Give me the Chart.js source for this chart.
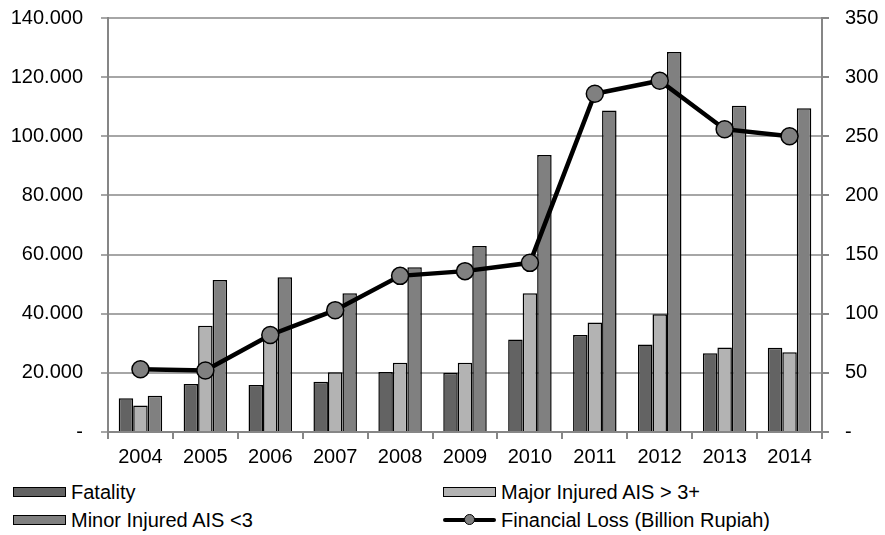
<!DOCTYPE html>
<html>
<head>
<meta charset="utf-8">
<script src="https://cdn.jsdelivr.net/npm/chart.js@4"></script>
<style>
  body { margin: 0; background: #fff; font-family: "Liberation Sans", Arial, sans-serif; }
  #wrap { position: relative; width: 885px; height: 482px; margin-top: -12px; }
  .legend { position: absolute; top: 480px; left: 13px; width: 870px; font-size: 20px; color: #000; }
  .item { position: absolute; display: flex; align-items: center; white-space: nowrap; height: 24px; }
  .box { width: 53px; height: 10px; border: 1.5px solid #000; box-sizing: border-box; margin-right: 5px; }
  .lineSym { position: relative; width: 53px; height: 16px; margin-right: 5px; }
  .lineSym .bar { position: absolute; left: 0; right: 0; top: 6px; height: 4px; background: #000; border-radius: 2px; }
  .lineSym .dot { position: absolute; left: 21px; top: 2px; width: 11px; height: 11px; border-radius: 50%; background: #808080; border: 1.5px solid #000; box-sizing: border-box; }
</style>
</head>
<body>
<div id="wrap"><canvas id="accidentChart"></canvas></div>
<div class="legend">
  <div class="item" style="left:0; top:0"><span class="box" style="background:#636363"></span>Fatality</div>
  <div class="item" style="left:430px; top:0"><span class="box" style="background:#b3b3b3"></span>Major Injured AIS &gt; 3+</div>
  <div class="item" style="left:0; top:28px"><span class="box" style="background:#808080"></span>Minor Injured AIS &lt;3</div>
  <div class="item" style="left:430px; top:28px"><span class="lineSym"><span class="bar"></span><span class="dot"></span></span>Financial Loss (Billion Rupiah)</div>
</div>
<script>
const years = ['2004', '2005', '2006', '2007', '2008', '2009', '2010', '2011', '2012', '2013', '2014'];
const fatality = [11400, 16200, 15900, 17000, 20300, 20000, 31300, 32800, 29600, 26600, 28500];
const majorInjured = [9000, 35900, 33000, 20200, 23400, 23400, 46900, 37000, 39800, 28600, 27000];
const minorInjured = [12300, 51400, 52300, 46900, 55700, 62900, 93700, 108700, 128500, 110300, 109500];
const financialLoss = [53, 52, 82, 103, 132, 136, 143, 286, 297, 256, 250];

const font = { family: '"Liberation Sans", Arial, sans-serif', size: 20 };
const axisColor = '#868686';

function barSet(label, data, color) {
    return {
        type: 'bar',
        label: label,
        data: data,
        backgroundColor: color,
        borderColor: '#000',
        borderWidth: 1.5,
        barPercentage: 1,
        categoryPercentage: 0.67,
        yAxisID: 'y',
        order: 2
    };
}

const ctx = document.getElementById('accidentChart').getContext('2d');
const chart = new Chart(ctx, {
    data: {
        labels: years,
        datasets: [
            barSet('Fatality', fatality, '#636363'),
            barSet('Major Injured AIS > 3+', majorInjured, '#b3b3b3'),
            barSet('Minor Injured AIS <3', minorInjured, '#808080'),
            {
                type: 'line',
                label: 'Financial Loss (Billion Rupiah)',
                data: financialLoss,
                borderColor: '#000',
                borderWidth: 4.5,
                pointRadius: 8.5,
                pointBackgroundColor: '#808080',
                pointBorderColor: '#000',
                pointBorderWidth: 1.5,
                yAxisID: 'y1',
                order: 1
            }
        ]
    },
    options: {
        responsive: true,
        maintainAspectRatio: false,
        animation: false,
        layout: { padding: 0 },
        plugins: { legend: { display: false }, tooltip: { enabled: false } },
        scales: {
            x: {
                offset: true,
                grid: { offset: true, drawOnChartArea: false, drawTicks: true, tickLength: 7, color: axisColor, lineWidth: 2 },
                border: { color: axisColor, width: 2 },
                ticks: { color: '#000', font: font, padding: 6 },
                afterFit: s => { s.height = 38; }
            },
            y: {
                position: 'left',
                min: 0,
                max: 140000,
                grid: { color: '#a6a6a6', lineWidth: 2, tickLength: 7 },
                border: { color: axisColor, width: 2 },
                ticks: {
                    stepSize: 20000,
                    color: '#000',
                    font: font,
                    padding: 18,
                    callback: v => v === 0 ? '-' : v.toLocaleString('de-DE', { minimumFractionDigits: 3 }).replace(',000', '')
                },
                afterFit: s => { s.width = 108; }
            },
            y1: {
                position: 'right',
                min: 0,
                max: 350,
                grid: { drawOnChartArea: false, tickLength: 7, color: axisColor, lineWidth: 2 },
                border: { color: axisColor, width: 2 },
                ticks: { stepSize: 50, color: '#000', font: font, padding: 16,
                    callback: v => v === 0 ? '-' : String(v) },
                afterFit: s => { s.width = 63; }
            }
        }
    }
});
</script>
</body>
</html>
